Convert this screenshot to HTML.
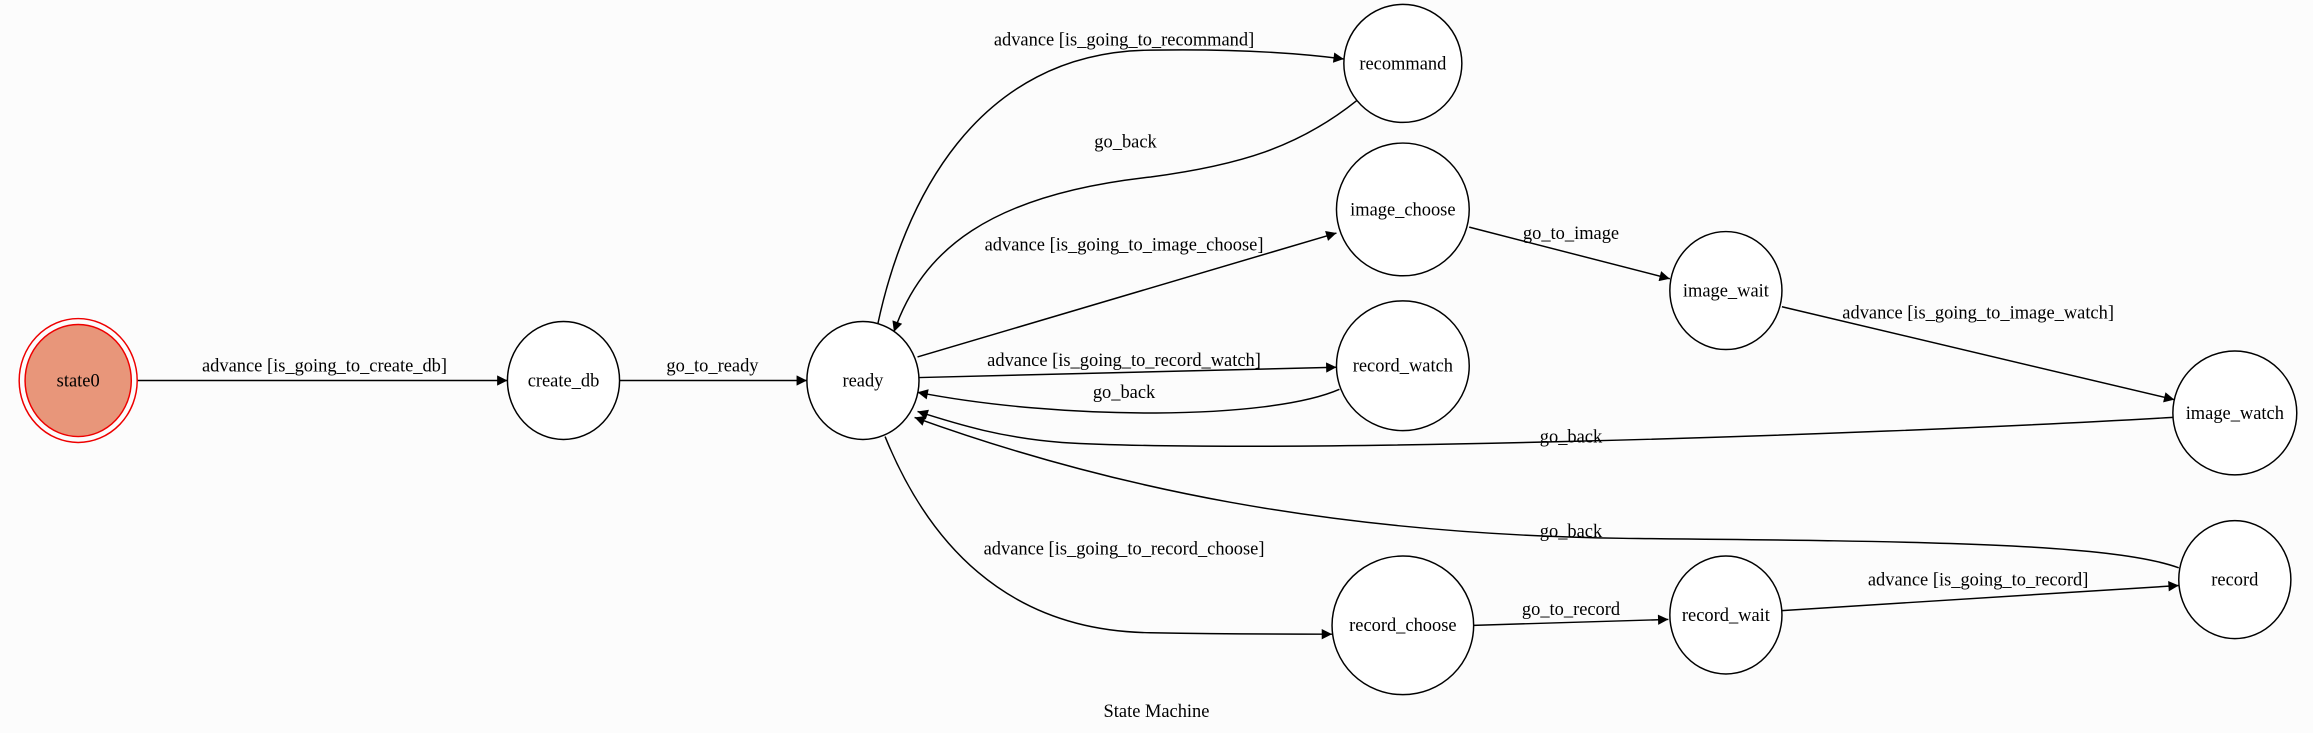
<!DOCTYPE html>
<html><head><meta charset="utf-8"><style>
html,body{margin:0;padding:0;background:#fcfcfc;}
svg{display:block;}
text{font-family:"Liberation Serif",serif;font-size:12.5px;fill:#000;text-anchor:middle;}
.e{fill:none;stroke:#000;stroke-width:1;}
.n{fill:#fff;stroke:#000;stroke-width:1;}
</style></head><body>
<svg width="2313" height="733" viewBox="0 0 1568 497" preserveAspectRatio="none" xmlns="http://www.w3.org/2000/svg">
<defs><marker id="a" viewBox="0 0 10 10" refX="10" refY="5" markerWidth="10" markerHeight="7" markerUnits="userSpaceOnUse" orient="auto"><path d="M0,0 L10,5 L0,10 z" fill="#000"/></marker></defs>
<rect width="1568" height="497" fill="#fcfcfc"/>
<!-- edges -->
<path class="e" marker-end="url(#a)" d="M93,258 L344,258"/>
<path class="e" marker-end="url(#a)" d="M420,258 L547,258"/>
<path class="e" marker-end="url(#a)" d="M595,220 C612,140 660,35 780,34 C840,33 880,36 911,40"/>
<path class="e" marker-end="url(#a)" d="M920,68 C880,100 840,112 780,120 C670,132 625,170 606,225"/>
<path class="e" marker-end="url(#a)" d="M622,242 L906,158"/>
<path class="e" marker-end="url(#a)" d="M623,256 L906,249"/>
<path class="e" marker-end="url(#a)" d="M908,264 C860,285 720,285 622,266"/>
<path class="e" marker-end="url(#a)" d="M996,154 L1132,189"/>
<path class="e" marker-end="url(#a)" d="M1208,208 L1474,271"/>
<path class="e" marker-end="url(#a)" d="M1473,283 C1250,296 850,308 720,300 C680,297 650,288 622,279"/>
<path class="e" marker-end="url(#a)" d="M1477,385 C1430,368 1300,367 1100,365 C900,362 750,330 620,283"/>
<path class="e" marker-end="url(#a)" d="M600,296 C628,365 680,428 780,429 C840,430 880,430 903,430"/>
<path class="e" marker-end="url(#a)" d="M999,424 L1131,420"/>
<path class="e" marker-end="url(#a)" d="M1208,414 L1477,397"/>
<!-- labels -->
<text x="220" y="252">advance [is_going_to_create_db]</text>
<text x="483" y="252">go_to_ready</text>
<text x="762" y="31">advance [is_going_to_recommand]</text>
<text x="763" y="100">go_back</text>
<text x="762" y="170">advance [is_going_to_image_choose]</text>
<text x="762" y="248">advance [is_going_to_record_watch]</text>
<text x="762" y="270">go_back</text>
<text x="1065" y="162">go_to_image</text>
<text x="1341" y="216">advance [is_going_to_image_watch]</text>
<text x="1065" y="300">go_back</text>
<text x="1065" y="364">go_back</text>
<text x="762" y="376">advance [is_going_to_record_choose]</text>
<text x="1065" y="417">go_to_record</text>
<text x="1341" y="397">advance [is_going_to_record]</text>
<text x="784" y="486">State Machine</text>
<!-- nodes -->
<ellipse cx="53" cy="258" rx="40" ry="42" fill="none" stroke="#e00" stroke-width="1"/>
<ellipse cx="53" cy="258" rx="36" ry="38" fill="#e8967a" stroke="#e00" stroke-width="1"/>
<text x="53" y="262">state0</text>
<ellipse class="n" cx="382" cy="258" rx="38" ry="40"/><text x="382" y="262">create_db</text>
<ellipse class="n" cx="585" cy="258" rx="38" ry="40"/><text x="585" y="262">ready</text>
<ellipse class="n" cx="951" cy="43" rx="40" ry="40"/><text x="951" y="47">recommand</text>
<ellipse class="n" cx="951" cy="142" rx="45" ry="45"/><text x="951" y="146">image_choose</text>
<ellipse class="n" cx="951" cy="248" rx="45" ry="44"/><text x="951" y="252">record_watch</text>
<ellipse class="n" cx="1170" cy="197" rx="38" ry="40"/><text x="1170" y="201">image_wait</text>
<ellipse class="n" cx="1515" cy="280" rx="42" ry="42"/><text x="1515" y="284">image_watch</text>
<ellipse class="n" cx="1515" cy="393" rx="38" ry="40"/><text x="1515" y="397">record</text>
<ellipse class="n" cx="951" cy="424" rx="48" ry="47"/><text x="951" y="428">record_choose</text>
<ellipse class="n" cx="1170" cy="417" rx="38" ry="40"/><text x="1170" y="421">record_wait</text>
</svg>
</body></html>
